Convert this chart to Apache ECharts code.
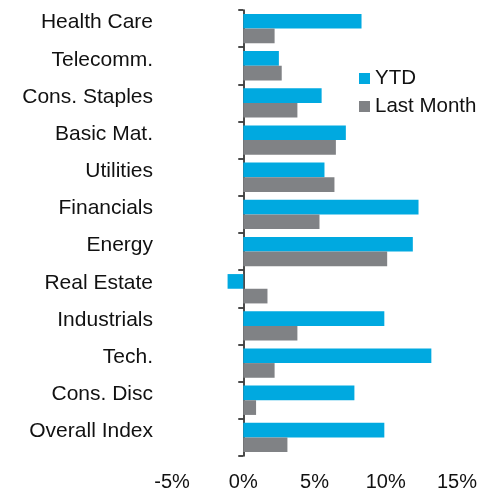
<!DOCTYPE html>
<html>
<head>
<meta charset="utf-8">
<script src="https://cdn.jsdelivr.net/npm/echarts@6/dist/echarts.min.js"></script>
<style>
  html, body { margin: 0; padding: 0; background: #fff; }
  #chart { width: 483px; height: 492px; }
</style>
</head>
<body>
<div id="chart"></div>
<script>
var sectors = ['Health Care', 'Telecomm.', 'Cons. Staples', 'Basic Mat.', 'Utilities', 'Financials',
  'Energy', 'Real Estate', 'Industrials', 'Tech.', 'Cons. Disc', 'Overall Index']
var ytd = [8.3, 2.5, 5.5, 7.2, 5.7, 12.3, 11.9, -1.1, 9.9, 13.2, 7.8, 9.9]
var lastMonth = [2.2, 2.7, 3.8, 6.5, 6.4, 5.35, 10.1, 1.7, 3.8, 2.2, 0.9, 3.1]
var xMin = -5
var xMax = 15
var xStep = 5

var chart = echarts.init(document.getElementById('chart'))
chart.setOption({
  animation: false,
  textStyle: { fontFamily: 'Liberation Sans, Arial, sans-serif' },
  legend: {
    orient: 'vertical',
    left: 354,
    top: 63,
    itemWidth: 11,
    itemHeight: 11,
    itemGap: 7,
    icon: 'rect',
    textStyle: { fontSize: 20.5, color: '#111' },
    data: ['YTD', 'Last Month']
  },
  grid: {
    left: 172,
    right: 26,
    top: 10,
    bottom: 36,
    containLabel: false,
    outerBoundsMode: 'none'
  },
  xAxis: {
    type: 'value',
    min: xMin,
    max: xMax,
    interval: xStep,
    axisLine: { show: false },
    axisTick: { show: false },
    splitLine: { show: false },
    axisLabel: {
      formatter: '{value}%',
      fontSize: 20,
      color: '#111',
      margin: 16
    }
  },
  yAxis: {
    type: 'category',
    inverse: true,
    data: sectors,
    axisLine: { onZero: true, lineStyle: { color: '#111', width: 1.5 } },
    axisTick: { show: true, length: 5, lineStyle: { color: '#111', width: 1.5 } },
    axisLabel: {
      fontSize: 21,
      color: '#111',
      margin: 19,
      verticalAlign: 'bottom',
      lineHeight: 12
    },
    splitLine: { show: false }
  },
  series: [
    {
      name: 'YTD',
      type: 'bar',
      data: ytd,
      barGap: '0%',
      barCategoryGap: '21%',
      itemStyle: { color: '#00A9E0' }
    },
    {
      name: 'Last Month',
      type: 'bar',
      data: lastMonth,
      barGap: '0%',
      barCategoryGap: '21%',
      itemStyle: { color: '#808285' }
    }
  ]
})
</script>
</body>
</html>
